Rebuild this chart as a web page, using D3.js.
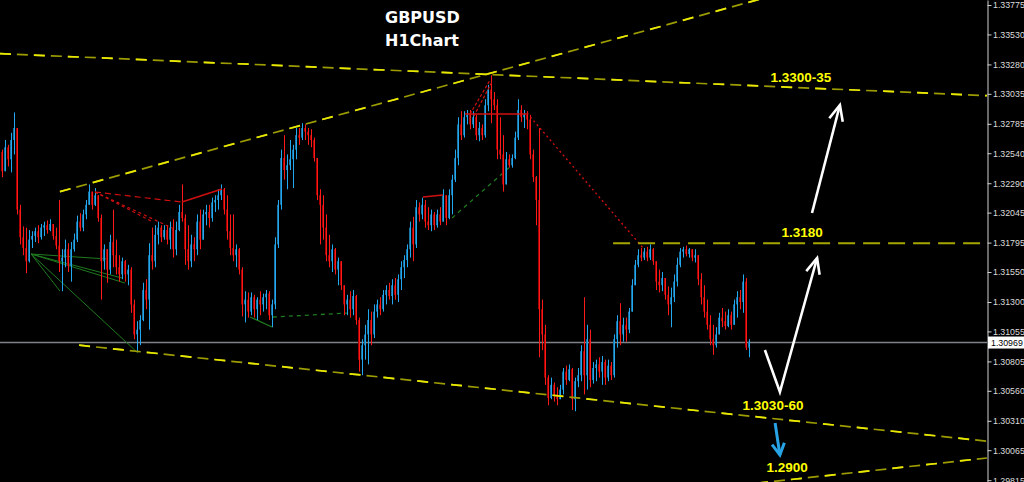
<!DOCTYPE html>
<html><head><meta charset="utf-8">
<script src="https://cdn.jsdelivr.net/npm/d3@7"></script>
<style>html,body{margin:0;padding:0;background:#000;overflow:hidden}</style>
</head><body><svg id="c" width="1024" height="482"></svg>
<script>
const titleLines = ["GBPUSD", "H1Chart"];
const firstOpen = 1.3255;
const highs = [
1.3257,1.3265,1.3261,1.3271,1.3288,1.3269,1.3211,1.3193,1.3192,1.3190,
1.3189,1.3192,1.3194,1.3195,1.3197,1.3198,1.3199,1.3195,1.3192,1.3215,
1.3174,1.3182,1.3179,1.3180,1.3187,1.3202,1.3204,1.3207,1.3215,1.3228,
1.3222,1.3225,1.3217,1.3203,1.3178,1.3174,1.3186,1.3207,1.3182,1.3169,
1.3167,1.3165,1.3161,1.3159,1.3132,1.3114,1.3119,1.3146,1.3149,1.3179,
1.3192,1.3194,1.3197,1.3194,1.3194,1.3194,1.3197,1.3199,1.3197,1.3211,
1.3228,1.3203,1.3194,1.3186,1.3184,1.3203,1.3207,1.3207,1.3211,1.3211,
1.3217,1.3219,1.3224,1.3228,1.3225,1.3219,1.3203,1.3203,1.3178,1.3175,
1.3159,1.3139,1.3138,1.3138,1.3136,1.3134,1.3139,1.3137,1.3140,1.3139,
1.3132,1.3184,1.3215,1.3257,1.3269,1.3253,1.3265,1.3261,1.3275,1.3275,
1.3279,1.3278,1.3275,1.3274,1.3267,1.3249,1.3224,1.3219,1.3203,1.3186,
1.3178,1.3175,1.3167,1.3164,1.3144,1.3136,1.3139,1.3140,1.3136,1.3117,
1.3099,1.3111,1.3124,1.3122,1.3128,1.3132,1.3134,1.3140,1.3144,1.3146,
1.3149,1.3150,1.3153,1.3164,1.3169,1.3178,1.3197,1.3201,1.3215,1.3213,
1.3217,1.3215,1.3209,1.3207,1.3205,1.3207,1.3209,1.3224,1.3219,1.3224,
1.3236,1.3257,1.3284,1.3289,1.3289,1.3290,1.3290,1.3289,1.3286,1.3280,
1.3278,1.3299,1.3311,1.3319,1.3305,1.3299,1.3284,1.3269,1.3255,1.3253,
1.3253,1.3272,1.3299,1.3294,1.3290,1.3289,1.3286,1.3257,1.3235,1.3275,
1.3132,1.3111,1.3069,1.3067,1.3063,1.3059,1.3061,1.3075,1.3077,1.3078,
1.3075,1.3067,1.3075,1.3094,1.3134,1.3111,1.3107,1.3080,1.3082,1.3084,
1.3085,1.3082,1.3082,1.3080,1.3103,1.3119,1.3129,1.3117,1.3117,1.3125,
1.3149,1.3165,1.3174,1.3175,1.3175,1.3176,1.3178,1.3175,1.3164,1.3157,
1.3155,1.3150,1.3143,1.3142,1.3153,1.3167,1.3175,1.3176,1.3177,1.3175,
1.3174,1.3174,1.3169,1.3154,1.3144,1.3132,1.3119,1.3111,1.3109,1.3121,
1.3125,1.3122,1.3124,1.3122,1.3132,1.3139,1.3140,1.3153,1.3150,1.3099];
const lows = [
1.3234,1.3244,1.3243,1.3238,1.3253,1.3203,1.3178,1.3169,1.3154,1.3163,
1.3175,1.3180,1.3179,1.3182,1.3185,1.3187,1.3189,1.3182,1.3174,1.3155,
1.3139,1.3159,1.3155,1.3147,1.3172,1.3180,1.3189,1.3189,1.3199,1.3211,
1.3207,1.3210,1.3197,1.3132,1.3157,1.3146,1.3153,1.3159,1.3153,1.3147,
1.3149,1.3147,1.3144,1.3121,1.3099,1.3089,1.3094,1.3114,1.3124,1.3107,
1.3157,1.3159,1.3178,1.3180,1.3182,1.3178,1.3174,1.3167,1.3169,1.3189,
1.3197,1.3161,1.3157,1.3159,1.3164,1.3169,1.3174,1.3182,1.3194,1.3192,
1.3197,1.3205,1.3207,1.3215,1.3203,1.3182,1.3169,1.3164,1.3159,1.3153,
1.3118,1.3113,1.3117,1.3119,1.3117,1.3115,1.3119,1.3122,1.3124,1.3115,
1.3109,1.3124,1.3175,1.3207,1.3232,1.3224,1.3240,1.3225,1.3249,1.3261,
1.3265,1.3265,1.3261,1.3259,1.3247,1.3215,1.3178,1.3182,1.3164,1.3159,
1.3155,1.3153,1.3144,1.3140,1.3119,1.3119,1.3117,1.3119,1.3111,1.3072,
1.3069,1.3082,1.3078,1.3094,1.3100,1.3117,1.3119,1.3122,1.3128,1.3132,
1.3128,1.3132,1.3130,1.3140,1.3150,1.3159,1.3167,1.3164,1.3175,1.3197,
1.3199,1.3192,1.3190,1.3189,1.3190,1.3192,1.3194,1.3197,1.3194,1.3199,
1.3203,1.3230,1.3244,1.3265,1.3267,1.3278,1.3274,1.3275,1.3265,1.3264,
1.3265,1.3267,1.3289,1.3279,1.3290,1.3249,1.3249,1.3222,1.3236,1.3242,
1.3242,1.3249,1.3265,1.3280,1.3275,1.3274,1.3249,1.3230,1.3194,1.3084,
1.3090,1.3061,1.3044,1.3049,1.3047,1.3044,1.3049,1.3053,1.3061,1.3064,
1.3040,1.3039,1.3059,1.3064,1.3053,1.3057,1.3059,1.3062,1.3064,1.3067,
1.3061,1.3061,1.3064,1.3065,1.3067,1.3092,1.3094,1.3097,1.3097,1.3104,
1.3122,1.3144,1.3159,1.3164,1.3165,1.3164,1.3165,1.3161,1.3140,1.3138,
1.3139,1.3132,1.3119,1.3109,1.3130,1.3143,1.3159,1.3167,1.3168,1.3167,
1.3164,1.3163,1.3144,1.3128,1.3117,1.3107,1.3094,1.3086,1.3092,1.3103,
1.3109,1.3107,1.3109,1.3107,1.3111,1.3117,1.3124,1.3121,1.3090,1.3084];
const closes = [
1.3239,1.3259,1.3249,1.3265,1.3275,1.3207,1.3184,1.3175,1.3164,1.3182,
1.3185,1.3189,1.3184,1.3192,1.3194,1.3190,1.3195,1.3185,1.3177,1.3164,
1.3167,1.3174,1.3160,1.3174,1.3182,1.3197,1.3192,1.3203,1.3211,1.3222,
1.3211,1.3219,1.3200,1.3164,1.3174,1.3157,1.3180,1.3169,1.3159,1.3153,
1.3164,1.3153,1.3157,1.3128,1.3103,1.3107,1.3115,1.3140,1.3132,1.3169,
1.3164,1.3186,1.3192,1.3184,1.3190,1.3182,1.3192,1.3174,1.3190,1.3205,
1.3200,1.3174,1.3164,1.3178,1.3174,1.3197,1.3182,1.3203,1.3205,1.3200,
1.3213,1.3215,1.3219,1.3224,1.3207,1.3189,1.3175,1.3169,1.3174,1.3157,
1.3128,1.3132,1.3122,1.3134,1.3124,1.3132,1.3128,1.3134,1.3137,1.3119,
1.3128,1.3178,1.3211,1.3250,1.3240,1.3244,1.3249,1.3257,1.3269,1.3267,
1.3275,1.3272,1.3269,1.3265,1.3250,1.3219,1.3211,1.3192,1.3169,1.3164,
1.3174,1.3157,1.3164,1.3144,1.3128,1.3132,1.3124,1.3135,1.3115,1.3082,
1.3094,1.3103,1.3115,1.3103,1.3122,1.3128,1.3124,1.3136,1.3140,1.3135,
1.3144,1.3136,1.3149,1.3159,1.3165,1.3174,1.3192,1.3178,1.3209,1.3203,
1.3211,1.3197,1.3194,1.3203,1.3194,1.3203,1.3197,1.3219,1.3200,1.3219,
1.3232,1.3250,1.3278,1.3269,1.3284,1.3286,1.3278,1.3284,1.3269,1.3275,
1.3269,1.3294,1.3307,1.3299,1.3294,1.3257,1.3253,1.3228,1.3249,1.3244,
1.3250,1.3267,1.3290,1.3284,1.3286,1.3282,1.3253,1.3234,1.3215,1.3124,
1.3103,1.3067,1.3050,1.3061,1.3053,1.3049,1.3057,1.3072,1.3065,1.3074,
1.3049,1.3064,1.3069,1.3089,1.3069,1.3099,1.3065,1.3075,1.3078,1.3072,
1.3080,1.3067,1.3077,1.3069,1.3099,1.3114,1.3103,1.3111,1.3107,1.3122,
1.3144,1.3161,1.3169,1.3167,1.3172,1.3167,1.3174,1.3164,1.3147,1.3144,
1.3150,1.3136,1.3128,1.3134,1.3147,1.3161,1.3172,1.3174,1.3170,1.3174,
1.3167,1.3169,1.3149,1.3134,1.3122,1.3111,1.3099,1.3094,1.3103,1.3117,
1.3114,1.3110,1.3119,1.3111,1.3128,1.3134,1.3130,1.3147,1.3092,1.3097];
const currentPrice = 1.30969;
const tickValues = [1.33775,1.33530,1.33280,1.33035,1.32785,1.32540,1.32290,1.32045,1.31795,1.31550,1.31300,1.31055,1.30805,1.30560,1.30310,1.30065,1.29815];

// trend lines: [bar index, price]
const upperRising = [[19.3,1.3222],[259.3,1.3387]];
const upperFalling = [[-0.7,1.3337],[328.3,1.3302]];
const resistance = [[203.7,1.3179],[328.3,1.3179]];
const lowerFalling = [[25.7,1.3094],[328.3,1.3014]];
const lowerRising = [[251.7,1.2979],[328.3,1.3000]];

const redFanApex = [31,1.32217];
const redFanEnds = [[60,1.32133],[50.3,1.31967],[56.7,1.31917]];
const redSolid = [[[60,1.32133],[73.3,1.32242]],[[140.3,1.32175],[147,1.32192]],[[154.3,1.32867],[175,1.32867]]];
const redTriangle = [[[156,1.32867],[162.7,1.3315]],[[157.3,1.3285],[163.3,1.33133]]];
const redDiagonal = [[175,1.32875],[213.7,1.3175]];
const greenFanApex = [9.7,1.3170];
const greenFanEnds = [[35.3,1.31658],[41,1.31458],[40,1.3150],[19.3,1.31392],[45.3,1.30875]];
const greenSolid = [[82.7,1.31175],[90,1.31092]];
const greenDashed = [[[90.3,1.31175],[115.3,1.31208]],[[150,1.3200],[170,1.32442]]];

const upArrow = [[270,1.32042],[279.3,1.32942]];
const vArrow = [[254.3,1.3090],[259.3,1.3055],[271.7,1.31667]];
const downArrow = [[257.7,1.30292],[259.3,1.30025]];

const targetLabels = ["1.3300-35","1.3180","1.3030-60","1.2900"];
const targetAnchors = [[266.3,1.3313],[266.7,1.31842],[257,1.3040],[261.7,1.29883]];

const W = 1024, H = 482, axisX = 987;
const N = closes.length;
const opens = closes.map((c,i) => i === 0 ? firstOpen : closes[i-1]);

const svg = d3.select("#c");
svg.append("rect").attr("width",W).attr("height",H).attr("fill","#000");
const x = d3.scaleLinear().domain([0, N-1]).range([2, 749]);
const y = d3.scaleLinear().domain([1.29800, 1.33817]).range([H, 0]);

svg.append("clipPath").attr("id","plot").append("rect").attr("x",0).attr("y",0).attr("width",axisX).attr("height",H);
const plot = svg.append("g").attr("clip-path","url(#plot)");
const line = d3.line().x(d => x(d[0])).y(d => y(d[1]));

// current price line
plot.append("line").attr("x1",0).attr("x2",axisX).attr("y1",y(currentPrice)+0.8).attr("y2",y(currentPrice)+0.8)
  .attr("stroke","#7d8289").attr("stroke-width",1.5);

// green annotations
const gGreen = plot.append("g").attr("fill","none").attr("stroke","#1f7a1f").attr("stroke-width",1);
greenFanEnds.forEach(e => gGreen.append("path").attr("d", line([greenFanApex, e])));
gGreen.append("path").attr("d", line(greenSolid)).attr("stroke-width",1.3);
greenDashed.forEach(s => gGreen.append("path").attr("d", line(s)).attr("stroke-dasharray","4,4").attr("stroke-width",1.3));

// candles
const bull = i => closes[i] >= opens[i];
plot.append("g").selectAll("rect").data(d3.range(N)).join("rect")
  .attr("x", i => Math.round(x(i)) - 1).attr("width", 2)
  .attr("y", i => y(Math.max(opens[i], closes[i])))
  .attr("height", i => Math.max(1, Math.abs(y(opens[i]) - y(closes[i]))))
  .attr("fill", i => bull(i) ? "#1b74a3" : "#a80000");
plot.append("g").selectAll("rect").data(d3.range(N)).join("rect")
  .attr("x", i => Math.round(x(i))).attr("width", 1)
  .attr("y", i => y(Math.max(highs[i], opens[i], closes[i])))
  .attr("height", i => y(Math.min(lows[i], opens[i], closes[i])) - y(Math.max(highs[i], opens[i], closes[i])))
  .attr("fill", i => bull(i) ? "#22a8f0" : "#ff1a1a");

// red annotations
const gRed = plot.append("g").attr("fill","none").attr("stroke","#d01010");
redFanEnds.forEach((e,k) => gRed.append("path").attr("d", line([redFanApex, e]))
  .attr("stroke-dasharray", k === 0 ? "6,4" : "3,3").attr("stroke-width",1.2));
redSolid.forEach(s => gRed.append("path").attr("d", line(s)).attr("stroke-width",1.5));
redTriangle.forEach(s => gRed.append("path").attr("d", line(s)).attr("stroke-dasharray","3,2").attr("stroke-width",1.2));
gRed.append("path").attr("d", line(redDiagonal)).attr("stroke-dasharray","2,3").attr("stroke-width",1.4);

// yellow trend lines
const gY = plot.append("g").attr("fill","none");
[upperRising, upperFalling, lowerFalling, lowerRising].forEach(l => {
  gY.append("path").attr("d", line(l)).attr("stroke","#9c9c00").attr("stroke-width",1.7).attr("stroke-dasharray","11,6");
  gY.append("path").attr("d", line(l)).attr("stroke","#e8e800").attr("stroke-width",1.7).attr("stroke-dasharray","11,23");
});
gY.append("path").attr("d", line(resistance)).attr("stroke","#a6a600").attr("stroke-width",2).attr("stroke-dasharray","17,8");

// arrows
function arrow(g, pts, color, width, headLen, headAng) {
  g.append("path").attr("d", line(pts)).attr("fill","none").attr("stroke",color)
    .attr("stroke-width",width).attr("stroke-linejoin","miter").attr("stroke-linecap","butt");
  const a = pts[pts.length-1], b = pts[pts.length-2];
  const tx = x(a[0]), ty = y(a[1]), bx = x(b[0]), by = y(b[1]);
  const ang = Math.atan2(by - ty, bx - tx);
  const pa = [[tx + headLen*Math.cos(ang+headAng), ty + headLen*Math.sin(ang+headAng)],[tx,ty],
              [tx + headLen*Math.cos(ang-headAng), ty + headLen*Math.sin(ang-headAng)]];
  g.append("path").attr("d", d3.line()(pa)).attr("fill","none").attr("stroke",color)
    .attr("stroke-width",width).attr("stroke-linejoin","miter");
}
const gA = svg.append("g");
arrow(gA, upArrow, "#ffffff", 2.6, 17, 0.42);
arrow(gA, vArrow, "#ffffff", 2.6, 17, 0.42);
arrow(gA, downArrow, "#27a3e6", 3, 13, 0.5);

// target labels
svg.append("g").selectAll("text").data(targetLabels).join("text")
  .attr("x", (d,i) => x(targetAnchors[i][0])).attr("y", (d,i) => y(targetAnchors[i][1]))
  .attr("text-anchor","middle").attr("fill","#ffff00")
  .attr("font-family","'Liberation Sans', Arial, sans-serif").attr("font-weight","bold").attr("font-size","13.5px")
  .text(d => d);

// title
svg.append("g").selectAll("text").data(titleLines).join("text")
  .attr("x", 385).attr("y", (d,i) => 23 + i*23)
  .attr("fill","#ffffff").attr("font-family","'DejaVu Sans', sans-serif").attr("font-weight","bold").attr("font-size","16px")
  .text(d => d);

// price axis
const axis = d3.axisRight(y).tickValues(tickValues).tickSize(4).tickSizeOuter(0).tickPadding(1.5).tickFormat(d3.format(".5f"));
const gAx = svg.append("g").attr("transform",`translate(${axisX + 0.5},0)`).call(axis);
gAx.select(".domain").attr("stroke","#d0d0d0");
gAx.selectAll(".tick line").attr("stroke","#d0d0d0");
gAx.selectAll(".tick text").attr("fill","#dcdcdc").attr("font-family","'Liberation Sans', Arial, sans-serif")
  .attr("font-size","8.8px");

// current price tag
const cy = y(currentPrice) + 0.8;
svg.append("rect").attr("x", axisX + 1).attr("y", cy - 6).attr("width", W - axisX - 1).attr("height", 12).attr("fill","#ffffff");
svg.append("text").attr("x", axisX + 4).attr("y", cy).attr("dy","0.35em").attr("fill","#000")
  .attr("font-family","'Liberation Sans', Arial, sans-serif").attr("font-size","8.8px")
  .text(d3.format(".5f")(currentPrice));
</script></body></html>
